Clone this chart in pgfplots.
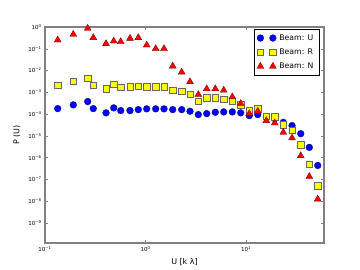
\documentclass[border=0pt]{standalone}
\usepackage{fontspec}
\setmainfont{DejaVu Sans}
\usepackage{pgfplots}
\pgfplotsset{compat=1.18}
\definecolor{axgray}{RGB}{128,128,128}
\definecolor{myyellow}{RGB}{255,255,0}
\begin{document}
\begin{tikzpicture}
\path[use as bounding box] (0bp,0bp) rectangle (360bp,270bp);
\begin{axis}[
  at={(45bp,27bp)}, anchor=south west,
  scale only axis, width=279bp, height=216bp,
  xmode=log, ymode=log,
  xmin=0.1, xmax=59.7, ymin=1.2e-10, ymax=1,
  xtick={0.1,1,10},
  xticklabels={10\textsuperscript{−1},10\textsuperscript{0},10\textsuperscript{1}},
  ytick={1,1e-1,1e-2,1e-3,1e-4,1e-5,1e-6,1e-7,1e-8,1e-9},
  yticklabels={10\textsuperscript{0},10\textsuperscript{−1},10\textsuperscript{−2},10\textsuperscript{−3},10\textsuperscript{−4},10\textsuperscript{−5},10\textsuperscript{−6},10\textsuperscript{−7},10\textsuperscript{−8},10\textsuperscript{−9}},
  ticklabel style={font=\fontsize{5.5}{6}\selectfont, text=black},
  axis line style={draw=axgray, line width=1.2pt},
  tick style={draw=axgray, line width=0.5pt},
  major tick length=3bp, minor tick length=1.5bp,
  xlabel={U [k λ]}, ylabel={P (U)},
  label style={font=\fontsize{8}{9}\selectfont},
  xlabel style={at={(axis description cs:0.5,0)}, anchor=center, yshift=-19bp},
  ylabel style={at={(axis description cs:0,0.5)}, anchor=center, yshift=28bp},
  legend style={at={(0.985,0.99)}, anchor=north east, draw=black, line width=0.6pt,
    font=\fontsize{7.8}{8.5}\selectfont, row sep=3bp, inner xsep=3bp, inner ysep=3bp,
    nodes={inner xsep=3bp}},
  legend cell align=left,
  legend image code/.code={\draw[#1, only marks] plot coordinates {(0bp,0bp) (12.5bp,0bp)};},
]
\addplot[only marks, mark=*, mark size=3.4bp, mark options={fill=blue, draw=blue!40!black, line width=0.3pt}] coordinates {
(0.1338,1.79e-4)(0.1913,2.66e-4)(0.266,3.77e-4)(0.3024,1.79e-4)(0.4046,1.14e-4)
(0.4828,1.93e-4)(0.5664,1.45e-4)(0.7012,1.45e-4)(0.848,1.61e-4)(1.028,1.74e-4)
(1.263,1.74e-4)(1.528,1.74e-4)(1.865,1.61e-4)(2.292,1.61e-4)(2.773,1.35e-4)
(3.354,9.5e-5)(4.064,1.05e-4)(4.949,1.21e-4)(6.0,1.26e-4)(7.308,1.26e-4)
(8.858,1.14e-4)(10.79,8.5e-5)(13.08,9.5e-5)(15.92,7.7e-5)(19.31,6.2e-5)
(23.5,4.19e-5)(28.69,2.95e-5)(35.03,1.26e-5)(42.65,2.95e-6)(51.7,4.37e-7)
(62.5,6.7e-9)};
\addlegendentry{Beam: U}
\addplot[only marks, mark=square*, mark size=3.2bp, mark options={fill=myyellow, draw=black!60, line width=0.5pt}] coordinates {
(0.1338,2.12e-3)(0.1913,3.15e-3)(0.266,4.33e-3)(0.3024,2.06e-3)(0.4046,1.45e-3)
(0.4828,2.29e-3)(0.5664,1.66e-3)(0.7012,1.79e-3)(0.848,1.85e-3)(1.028,1.79e-3)
(1.263,1.79e-3)(1.528,1.79e-3)(1.865,1.25e-3)(2.292,1.12e-3)(2.773,7.92e-4)
(3.354,3.89e-4)(4.064,5.58e-4)(4.949,5.58e-4)(6.0,4.66e-4)(7.308,3.89e-4)
(8.858,2.74e-4)(10.79,1.45e-4)(13.08,1.74e-4)(15.92,7.9e-5)(19.31,7.4e-5)
(23.5,3.28e-5)(28.69,1.79e-5)(35.03,3.93e-6)(42.65,5.07e-7)(51.7,5.07e-8)
(62.5,8.1e-10)};
\addlegendentry{Beam: R}
\addplot[only marks, mark=triangle*, mark size=4bp, mark options={fill=red, draw=red!40!black, line width=0.3pt}] coordinates {
(0.1338,0.252)(0.1913,0.461)(0.266,0.871)(0.3024,0.325)(0.4046,0.172)
(0.4828,0.226)(0.5664,0.212)(0.7012,0.301)(0.848,0.325)(1.028,0.148)
(1.263,0.101)(1.528,0.101)(1.865,0.0160)(2.292,0.00844)(2.773,0.00305)
(3.354,7.92e-4)(4.064,1.45e-3)(4.949,1.45e-3)(6.0,1.25e-3)(7.308,6.2e-4)
(8.858,3.05e-4)(10.79,1.05e-4)(13.08,1.35e-4)(15.92,5.0e-5)(19.31,3.93e-5)
(23.5,1.45e-5)(28.69,8.0e-6)(35.03,1.22e-6)(42.65,1.36e-7)(51.7,1.24e-8)};
\addlegendentry{Beam: N}
\end{axis}
\end{tikzpicture}
\end{document}
